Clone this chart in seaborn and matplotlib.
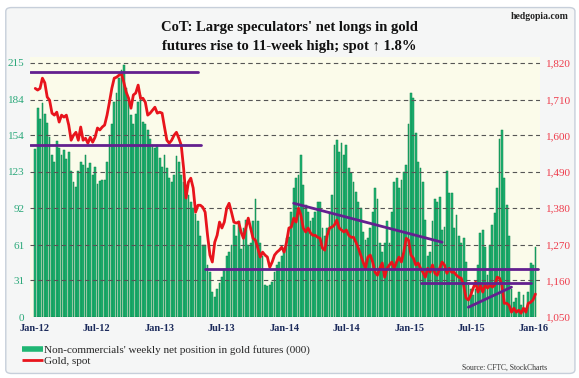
import numpy as np
import pandas as pd
import seaborn as sns
import matplotlib.pyplot as plt
from matplotlib.lines import Line2D
from matplotlib.patches import FancyBboxPatch

# weekly non-commercial net longs in gold futures (000 contracts), Jan-12 .. Jan-16
net_longs = [
    142, 177, 168, 181, 172, 164, 152, 137, 131, 149, 143, 137, 141, 134, 140, 124, 114, 110,
    124, 131, 129, 137, 126, 130, 120, 127, 113, 115, 116, 116, 131, 154, 163, 182, 190,
    202, 209, 213, 194, 186, 171, 163, 172, 182, 188, 165, 163, 158, 151, 146, 143, 146, 135,
    127, 137, 126, 118, 114, 120, 136, 131, 120, 114, 112, 103, 97, 92, 87, 81, 69, 61,
    61, 44, 38, 21, 17, 24, 29, 34, 41, 52, 55, 61, 78, 69, 81, 58, 75, 82, 61, 63, 81, 100,
    81, 63, 52, 27, 26, 27, 30, 38, 44, 47, 52, 58, 67, 68,
    89, 109, 118, 120, 137, 112, 95, 89, 81, 84, 89, 97, 97, 75, 69, 75, 89, 103, 146, 150,
    140, 147, 137, 146, 126, 122, 114, 106, 97, 92, 72, 65, 67, 75, 89, 109,
    100, 63, 55, 63, 81, 63, 89, 114, 118, 109, 116, 123, 129, 163, 190, 185, 156, 131, 126,
    114, 82, 52, 55, 81, 100, 97, 102, 74, 76, 124, 105, 105, 75, 86, 69, 63, 67,
    47, 27, 24, 19, 24, 44, 71, 74, 59, 36, 61, 78, 88, 109, 151, 158, 118, 95, 69, 24, 13,
    16, 21, 10, 19, 8, 21, 46, 44, 59,
]

# gold spot, $/oz
gold_spot = [
    1743, 1738, 1743, 1774, 1760, 1717, 1707, 1668, 1662, 1671, 1641, 1662, 1656, 1662, 1632,
    1586, 1601, 1610, 1586, 1626, 1586, 1592, 1577, 1595, 1580, 1595, 1623, 1617, 1626, 1632,
    1662, 1701, 1743, 1774, 1777,
    1783, 1789, 1762, 1732, 1713, 1683, 1723, 1729, 1753, 1713, 1713, 1701, 1662, 1668, 1677,
    1686, 1668, 1671, 1668, 1626, 1586, 1577, 1586, 1601, 1610, 1592, 1571, 1501, 1411, 1459,
    1471, 1441, 1368, 1389, 1389, 1383,
    1368, 1298, 1238, 1217, 1277, 1298, 1338, 1320, 1338, 1380, 1395, 1368, 1338, 1335, 1338,
    1308, 1289, 1320, 1350, 1320, 1289, 1283, 1259, 1232, 1247, 1238, 1232, 1201, 1217, 1238,
    1247, 1253, 1262, 1247, 1277, 1320,
    1323, 1350, 1338, 1380, 1359, 1320, 1308, 1320, 1305, 1298, 1298, 1292, 1289, 1259, 1253,
    1298, 1320, 1323, 1329, 1344, 1320, 1314, 1308, 1314, 1298, 1292, 1292, 1277, 1259, 1238,
    1217, 1198, 1232, 1238, 1217, 1186,
    1177, 1198, 1214, 1171, 1198, 1208, 1217, 1198, 1217, 1232, 1217, 1247, 1289, 1283, 1238,
    1229, 1208, 1214, 1198, 1186, 1171, 1198, 1186, 1208, 1183, 1177, 1198, 1217, 1208, 1183,
    1198, 1186, 1186, 1177, 1171, 1168, 1147,
    1108, 1102, 1117, 1138, 1156, 1126, 1147, 1126, 1147, 1138, 1147, 1141, 1147, 1171, 1168,
    1147, 1092, 1092, 1086, 1065, 1077, 1065, 1071, 1062, 1077, 1065, 1092, 1095, 1102, 1120,
]

left_ticks = [0, 31, 61, 92, 123, 154, 184, 215]
right_ticks = [1050, 1160, 1270, 1380, 1490, 1600, 1710, 1820]
x_tick_dates = ['2012-01-01', '2012-07-01', '2013-01-01', '2013-07-01', '2014-01-01',
                '2014-07-01', '2015-01-01', '2015-07-01', '2016-01-01']
x_tick_labels = ['Jan-12', 'Jul-12', 'Jan-13', 'Jul-13', 'Jan-14',
                 'Jul-14', 'Jan-15', 'Jul-15', 'Jan-16']

# hand-drawn support / resistance lines (gold scale)
trend_starts = ['2011-12-20', '2011-12-20', '2013-05-14', '2014-01-28', '2015-02-03', '2015-06-23']
trend_ends = ['2013-04-23', '2013-05-01', '2016-01-12', '2015-04-07', '2015-12-22', '2015-10-27']
trend_from = [1792, 1571, 1195, 1395, 1153, 1080]
trend_to = [1792, 1571, 1195, 1277, 1153, 1141]

weeks = pd.date_range('2012-01-03', periods=len(net_longs), freq='7D')
df = pd.DataFrame({'week': weeks, 'net': net_longs, 'gold': gold_spot})

sns.set_theme(style='white')
plt.rcParams['font.family'] = ['Liberation Serif', 'DejaVu Serif']

fig = plt.figure(figsize=(5.79, 3.78), dpi=100)
fig.patch.set_facecolor('white')
fig.patches.append(FancyBboxPatch((0.010, 0.012), 0.983, 0.968,
                                  boxstyle='round,pad=0,rounding_size=0.01',
                                  transform=fig.transFigure, fc='#f5f6f6',
                                  ec='#c7cfda', lw=1.0, zorder=-10))

ax = fig.add_axes([0.052, 0.161, 0.881, 0.688])
ax.set_facecolor('#fbfbea')
ax.bar(df['week'], df['net'], width=5.2, color='#1fb674', edgecolor='#0d8048',
       linewidth=0.35, zorder=2)
ax.set_ylim(0, 220)
ax.set_yticks(left_ticks)
ax.set_xlim(pd.Timestamp('2011-12-19'), pd.Timestamp('2016-01-19'))
ax.set_xticks(pd.to_datetime(x_tick_dates))
ax.set_xticklabels(x_tick_labels)
for y in left_ticks[1:]:
    ax.axhline(y, color='#555555', lw=0.8, ls=(0, (4, 3)), zorder=3)
ax.tick_params(axis='y', colors='#2aa87a', labelsize=8, length=0, pad=4)
ax.tick_params(axis='x', colors='#1c2b5c', labelsize=7.5, length=0, pad=5)
for lab in ax.get_xticklabels():
    lab.set_fontweight('bold')
ax.set_xlabel('')
ax.set_ylabel('')

ax2 = ax.twinx()
sns.lineplot(data=df, x='week', y='gold', ax=ax2, color='#e8141c', lw=2, zorder=4)
for s, e, a, b in zip(trend_starts, trend_ends, trend_from, trend_to):
    ax2.plot(pd.to_datetime([s, e]), [a, b], color='#63208f', lw=2, zorder=5)
ax2.set_ylim(1050, 1050 + 220 * 770 / 215)
ax2.set_yticks(right_ticks)
ax2.set_yticklabels([f'{v:,}' for v in right_ticks])
ax2.tick_params(axis='y', colors='#ee3b4b', labelsize=8, length=0, pad=4)
ax2.set_xlabel('')
ax2.set_ylabel('')
ax2.grid(False)

for a in (ax, ax2):
    for sp in a.spines.values():
        sp.set_visible(False)

fig.text(0.5, 0.926, "CoT: Large speculators' net longs in gold", ha='center', va='center',
         fontsize=10.5, fontweight='bold', color='#111111')
fig.text(0.5, 0.876, "futures rise to 11-week high; spot \u2191 1.8%", ha='center', va='center',
         fontsize=10.5, fontweight='bold', color='#111111')
fig.text(0.982, 0.956, 'hedgopia.com', ha='right', va='center', fontsize=7,
         fontweight='bold', color='#222222')
fig.text(0.945, 0.027, 'Source: CFTC, StockCharts', ha='right', va='center', fontsize=5.5,
         color='#333333')

handles = [Line2D([], [], color='#1fb674', lw=4, solid_capstyle='butt'),
           Line2D([], [], color='#e8141c', lw=2, solid_capstyle='butt')]
labels = ["Non-commercials' weekly net position in gold futures (000)", 'Gold, spot']
fig.legend(handles, labels, loc='lower left', bbox_to_anchor=(0.024, 0.012), frameon=False,
           fontsize=8, handlelength=1.9, handletextpad=0.1, labelspacing=0.1,
           borderpad=0.2)

fig.savefig('out.png', dpi=100)
